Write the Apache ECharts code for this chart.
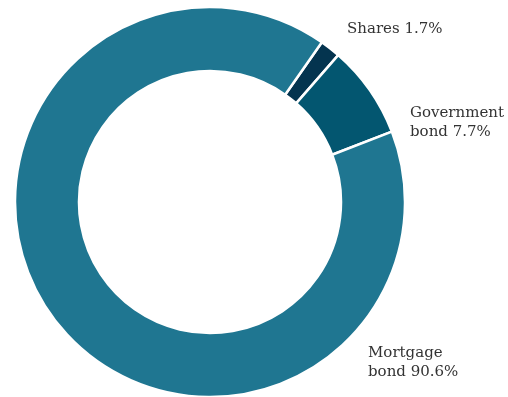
<!DOCTYPE html>
<html>
<head>
<meta charset="utf-8">
<script src="https://cdn.jsdelivr.net/npm/echarts@6/dist/echarts.min.js"></script>
<style>
  html, body { margin: 0; padding: 0; background: #fff; }
  #chart { width: 508px; height: 397px; }
</style>
</head>
<body>
<div id="chart"></div>
<script>
// Portfolio split by asset type (percent)
const categories = ['Shares', 'Government bond', 'Mortgage bond'];
const shares = [1.7, 7.7, 90.6];
const colors = ['#04344f', '#035670', '#1f7691'];

// Label anchors (top-left corner of each label block), in pixels
const labelSpots = [
  { x: 347, y: 20 },
  { x: 410, y: 104 },
  { x: 368, y: 344 }
];

function labelText(name, value) {
  const words = name.split(' ');
  const pct = value.toFixed(1) + '%';
  if (words.length > 1) {
    return words.slice(0, -1).join(' ') + '\n' + words[words.length - 1] + ' ' + pct;
  }
  return name + ' ' + pct;
}

const chart = echarts.init(document.getElementById('chart'), null, { renderer: 'canvas' });

chart.setOption({
  animation: false,
  backgroundColor: '#ffffff',
  series: [{
    type: 'pie',
    center: [210, 202],
    radius: [131, 195],
    startAngle: 55,
    clockwise: true,
    avoidLabelOverlap: false,
    emphasis: { disabled: true },
    itemStyle: { borderColor: '#ffffff', borderWidth: 2.5 },
    label: {
      show: true,
      position: 'outside',
      fontFamily: 'DejaVu Serif',
      fontSize: 15,
      lineHeight: 19,
      color: '#333333',
      align: 'left',
      formatter: p => labelText(p.name, p.value)
    },
    labelLine: { show: false },
    labelLayout: p => ({
      x: labelSpots[p.dataIndex].x,
      y: labelSpots[p.dataIndex].y,
      align: 'left',
      verticalAlign: 'top'
    }),
    data: categories.map((c, i) => ({
      name: c,
      value: shares[i],
      itemStyle: { color: colors[i] }
    }))
  }]
});
</script>
</body>
</html>
